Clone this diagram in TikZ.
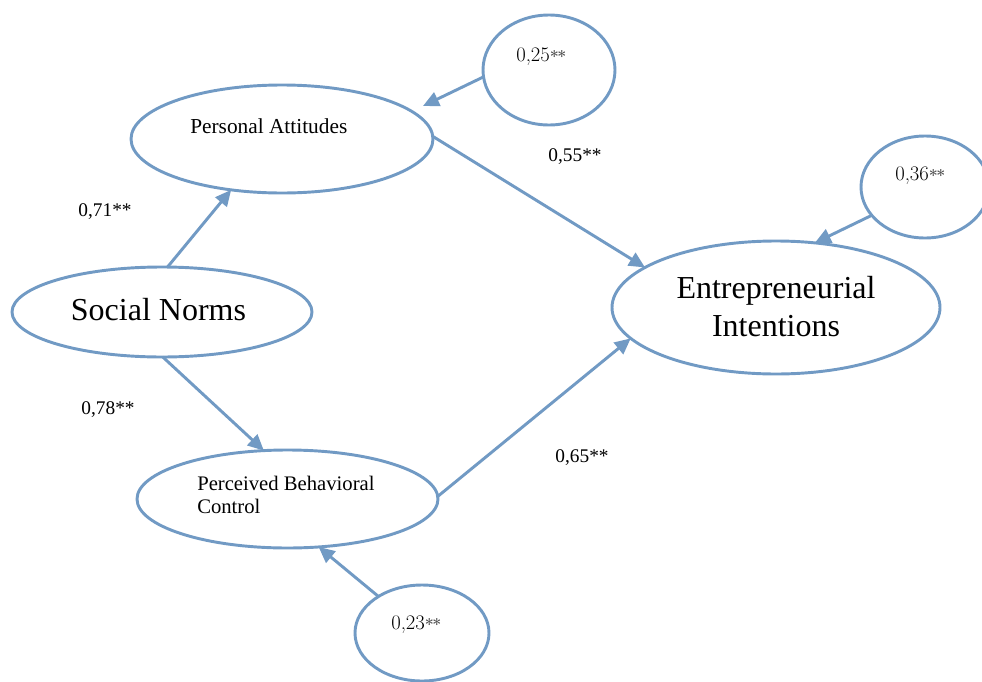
\documentclass[tikz,border=0pt]{standalone}
\usepackage{fontspec}
\newfontfamily\tnr{Liberation Serif}
\usetikzlibrary{shapes.geometric,arrows.meta}
\definecolor{lb}{RGB}{113,154,196}
\definecolor{stargrey}{RGB}{80,80,80}
\newcommand{\smst}{\raisebox{-0.05em}{\textcolor{stargrey}{\fontsize{12}{12}\selectfont\bfseries *\kern-0.1em*}}}
\begin{document}
\begin{tikzpicture}[x=0.75pt,y=-0.75pt,
  oval/.style={draw=lb,line width=2.2pt,ellipse,inner sep=0pt,outer sep=0pt},
  conn/.style={draw=lb,line width=2.2pt,-{Triangle[length=12pt,width=11pt]}},
  pathlab/.style={font=\tnr\fontsize{14.5}{17}\selectfont,inner sep=0pt},
  errlab/.style={font=\fontsize{15.5}{17}\selectfont,inner sep=0pt,anchor=base west},
  bigtext/.style={font=\tnr\fontsize{24}{28.5}\selectfont,inner sep=0pt,anchor=base,align=center},
  midtext/.style={font=\tnr\fontsize{15.5}{17.25}\selectfont,inner sep=0pt,anchor=base west,align=left}]
\useasboundingbox (0,0) rectangle (982,682);
\clip (0,0) rectangle (982,682);
% ellipses
\node[oval,minimum width=226.5pt,minimum height=81pt] (pa) at (282,139) {};
\node[oval,minimum width=225pt,minimum height=67.5pt] (sn) at (162,312) {};
\node[oval,minimum width=225.75pt,minimum height=73.5pt] (pbc) at (287.5,499) {};
\node[oval,minimum width=246pt,minimum height=99.75pt] (ei) at (776,307.5) {};
\node[oval,minimum width=99pt,minimum height=82.5pt] (c25) at (549,70) {};
\node[oval,minimum width=96pt,minimum height=76.5pt] (c36) at (925,187) {};
\node[oval,minimum width=100.5pt,minimum height=72pt] (c23) at (422,633) {};
% texts
\node[midtext,font=\tnr\fontsize{16}{18}\selectfont] (tpa) at (190,133) {Personal Attitudes};
\node[bigtext] (tsn) at (158.5,320) {Social Norms};
\node[midtext,anchor=north west] (tpbc) at (197,476) {Perceived Behavioral\\Control};
\node[bigtext,anchor=north] (tei) at (776,276) {Entrepreneurial\\Intentions};
\node[errlab] (e25) at (516,61) {0,25\smst};
\node[errlab] (e36) at (895,180) {0,36\smst};
\node[errlab] (e23) at (391,629) {0,23\smst};
% path labels
\node[pathlab] (l55) at (575,157) {0,55**};
\node[pathlab] (l71) at (105,212) {0,71**};
\node[pathlab] (l78) at (108,410) {0,78**};
\node[pathlab] (l65) at (582,458) {0,65**};
% connectors
\draw[conn] (sn.83) -- (pa.225);
\draw[conn] (sn.271) -- (pbc.116);
\draw[conn] (pa.1) -- (ei.163);
\draw[conn] (pbc.1) -- (ei.192);
\draw[conn,shorten >=9.3pt] (c25.186) -- (pa.12);
\draw[conn] (c36.208) -- (ei.59);
\draw[conn] (c23.140) -- (pbc.303);
\end{tikzpicture}
\end{document}
